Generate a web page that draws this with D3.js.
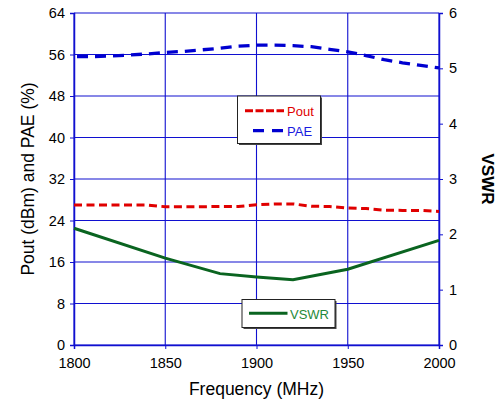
<!DOCTYPE html>
<html>
<head>
<meta charset="utf-8">
<script src="https://cdn.jsdelivr.net/npm/d3@7"></script>
<style>
  body { margin: 0; background: #fff; }
  text { font-family: "Liberation Sans", Arial, sans-serif; }
</style>
</head>
<body>
<script>
const width = 497;
const height = 404;

// data
const freq = [1800, 1810, 1820, 1830, 1840, 1850, 1860, 1870, 1880, 1890, 1900,
              1910, 1920, 1930, 1940, 1950, 1960, 1970, 1980, 1990, 2000];
const pout = [27.0, 27.0, 27.0, 27.0, 27.0, 26.65, 26.65, 26.65, 26.7, 26.7, 27.05,
              27.2, 27.2, 26.75, 26.7, 26.4, 26.3, 26.0, 25.95, 25.95, 25.75];
const pae = [55.6, 55.6, 55.7, 55.9, 56.1, 56.4, 56.6, 56.9, 57.2, 57.6, 57.8,
             57.8, 57.7, 57.5, 57.0, 56.5, 55.8, 55.0, 54.4, 53.9, 53.4];
const vswrFreq = [1800, 1850, 1880, 1900, 1920, 1950, 2000];
const vswr = [2.11, 1.57, 1.29, 1.23, 1.18, 1.37, 1.89];

const xTicks = [1800, 1850, 1900, 1950, 2000];
const leftTicks = [0, 8, 16, 24, 32, 40, 48, 56, 64];
const rightTicks = [0, 1, 2, 3, 4, 5, 6];

const margin = {left: 74, right: 58, top: 13, bottom: 59};

const svg = d3.select("body")
    .append("svg")
    .attr("width", width)
    .attr("height", height);

const x = d3.scaleLinear().domain([1800, 2000]).range([margin.left, width - margin.right]);
const yL = d3.scaleLinear().domain([0, 64]).range([height - margin.bottom, margin.top]);
const yR = d3.scaleLinear().domain([0, 6]).range([height - margin.bottom, margin.top]);

const gridColor = "#1010d0";

// gridlines
svg.append("g")
    .selectAll("line")
    .data(leftTicks)
    .join("line")
    .attr("x1", x(1800)).attr("x2", x(2000))
    .attr("y1", d => yL(d)).attr("y2", d => yL(d))
    .attr("stroke", gridColor)
    .attr("stroke-width", 1.1);

svg.append("g")
    .selectAll("line")
    .data(xTicks)
    .join("line")
    .attr("x1", d => x(d)).attr("x2", d => x(d))
    .attr("y1", yL(0)).attr("y2", yL(64))
    .attr("stroke", gridColor)
    .attr("stroke-width", 1.1);

// axes
const xAxis = svg.append("g")
    .attr("transform", `translate(0,${yL(0)})`)
    .call(d3.axisBottom(x).tickValues(xTicks).tickSize(4).tickFormat(d3.format("d")));

const leftAxis = svg.append("g")
    .attr("transform", `translate(${x(1800)},0)`)
    .call(d3.axisLeft(yL).tickValues(leftTicks).tickSize(4).tickFormat(d3.format("d")));

const rightAxis = svg.append("g")
    .attr("transform", `translate(${x(2000)},0)`)
    .call(d3.axisRight(yR).tickValues(rightTicks).tickSize(4).tickFormat(d3.format("d")));

[xAxis, leftAxis, rightAxis].forEach(g => {
    g.select(".domain").attr("stroke", gridColor).attr("stroke-width", 1.5);
    g.selectAll(".tick line").attr("stroke", gridColor);
    g.selectAll(".tick text")
        .attr("font-size", 14.5)
        .attr("fill", "#000")
        .style("font-family", "Liberation Sans, Arial, sans-serif");
});
xAxis.selectAll(".tick text").attr("dy", "1.1em");
leftAxis.selectAll(".tick text").attr("x", -9);
rightAxis.selectAll(".tick text").attr("x", 10);

// series
const linePout = d3.line().x((d, i) => x(freq[i])).y(d => yL(d));
const lineVswr = d3.line().x((d, i) => x(vswrFreq[i])).y(d => yR(d));

svg.append("path")
    .datum(vswr)
    .attr("d", lineVswr)
    .attr("fill", "none")
    .attr("stroke", "#0a6420")
    .attr("stroke-width", 3);

svg.append("path")
    .datum(pout)
    .attr("d", linePout)
    .attr("fill", "none")
    .attr("stroke", "#e00000")
    .attr("stroke-width", 3)
    .attr("stroke-dasharray", "8,4.5");

svg.append("path")
    .datum(pae)
    .attr("d", linePout)
    .attr("fill", "none")
    .attr("stroke", "#0000d0")
    .attr("stroke-width", 3.3)
    .attr("stroke-dasharray", "11,7")
    .attr("stroke-dashoffset", -3);

// legends
function legendBox(x0, y0, w, h) {
    svg.append("rect")
        .attr("x", x0 + 1.5).attr("y", y0 + 1.5)
        .attr("width", w).attr("height", h)
        .attr("fill", "#444");
    svg.append("rect")
        .attr("x", x0).attr("y", y0)
        .attr("width", w).attr("height", h)
        .attr("fill", "#fff")
        .attr("stroke", "#222")
        .attr("stroke-width", 1);
}

legendBox(237.5, 96, 83, 47.5);
svg.append("line")
    .attr("x1", 245).attr("x2", 284).attr("y1", 110.7).attr("y2", 110.7)
    .attr("stroke", "#e00000").attr("stroke-width", 3).attr("stroke-dasharray", "8,2.5");
svg.append("text")
    .attr("x", 287).attr("y", 116).attr("font-size", 13)
    .attr("fill", "#e00000").text("Pout");
svg.append("line")
    .attr("x1", 253).attr("x2", 283).attr("y1", 130.7).attr("y2", 130.7)
    .attr("stroke", "#0000d0").attr("stroke-width", 3.3).attr("stroke-dasharray", "11,8");
svg.append("text")
    .attr("x", 287).attr("y", 136).attr("font-size", 13)
    .attr("fill", "#1a1ae0").text("PAE");

legendBox(242, 299.5, 93, 28);
svg.append("line")
    .attr("x1", 249).attr("x2", 287.5).attr("y1", 313.3).attr("y2", 313.3)
    .attr("stroke", "#0a6420").attr("stroke-width", 3);
svg.append("text")
    .attr("x", 290).attr("y", 318.5).attr("font-size", 13)
    .attr("fill", "#1f8a3a").text("VSWR");

// axis titles
svg.append("text")
    .attr("x", width / 2 + 8).attr("y", 395)
    .attr("text-anchor", "middle")
    .attr("font-size", 17.5)
    .text("Frequency (MHz)");

svg.append("text")
    .attr("transform", `translate(34,${(yL(0) + yL(64)) / 2}) rotate(-90)`)
    .attr("text-anchor", "middle")
    .attr("font-size", 17.5)
    .text("Pout (dBm) and PAE (%)");

svg.append("text")
    .attr("transform", `translate(482,${(yL(0) + yL(64)) / 2}) rotate(90)`)
    .attr("text-anchor", "middle")
    .attr("font-size", 17)
    .attr("font-weight", "bold")
    .text("VSWR");
</script>
</body>
</html>
